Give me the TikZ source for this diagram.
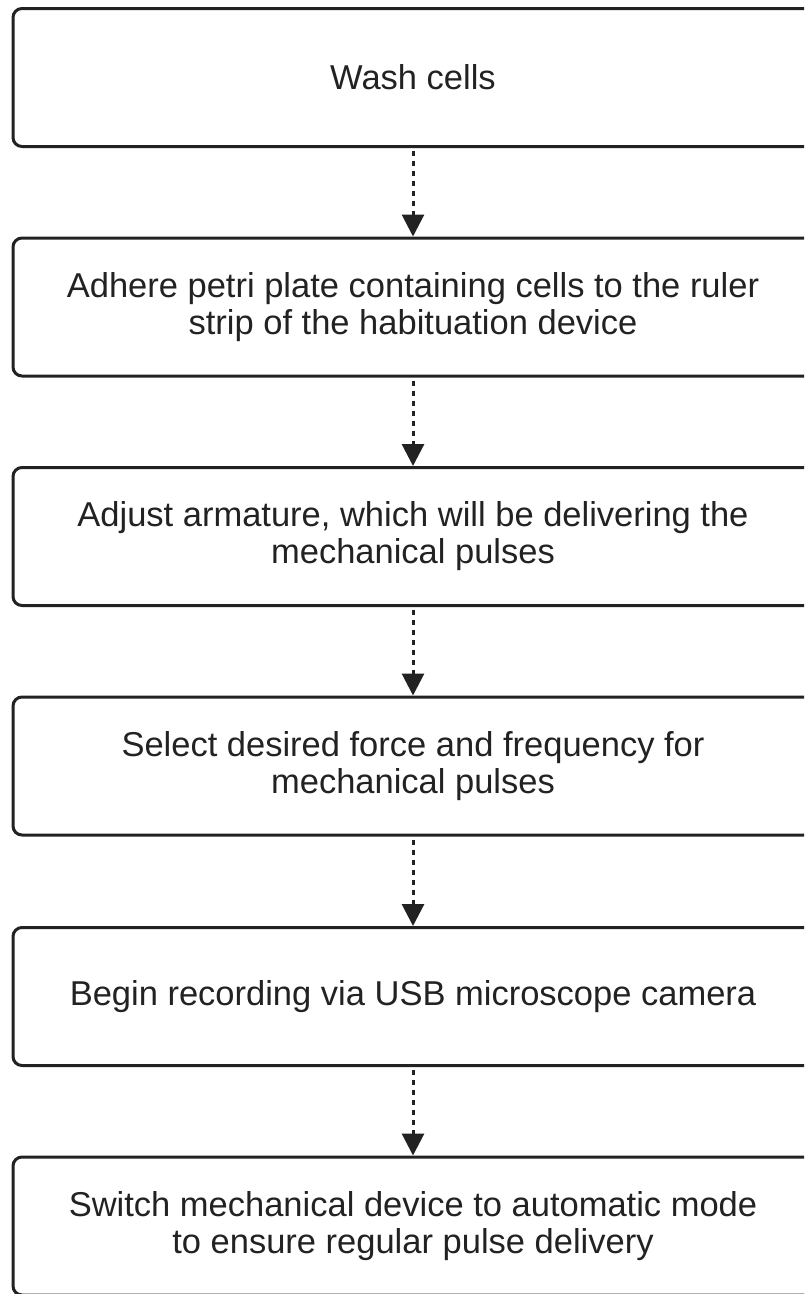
\documentclass[tikz,border=0pt]{standalone}
\usepackage{fontspec}
\setmainfont{Liberation Sans}
\usetikzlibrary{arrows.meta}
\definecolor{ink}{HTML}{222222}
\tikzset{
  stepbox/.style={draw=ink, line width=3pt, rounded corners=9pt, minimum width=800pt, minimum height=138pt, inner sep=0pt, align=center, text=ink, font=\fontsize{34.5}{37}\selectfont},
  flowarrow/.style={draw=ink, line width=3pt, dash pattern=on 5pt off 5pt, shorten <=3pt, -{Triangle[width=22pt,length=22pt]}}
}
\begin{document}
\begin{tikzpicture}[x=1pt,y=-1pt]
\useasboundingbox (0,0) rectangle (804,1294);
\clip (0,0) rectangle (804,1294);
\node[stepbox] (s1) at (413,77.5) {Wash cells};
\node[stepbox] (s2) at (413,307) {Adhere petri plate containing cells to the ruler\\strip of the habituation device};
\node[stepbox] (s3) at (413,536.5) {Adjust armature, which will be delivering the\\mechanical pulses};
\node[stepbox] (s4) at (413,766) {Select desired force and frequency for\\mechanical pulses};
\node[stepbox] (s5) at (413,996.5) {Begin recording via USB microscope camera};
\node[stepbox] (s6) at (413,1226) {Switch mechanical device to automatic mode\\to ensure regular pulse delivery};
\draw[flowarrow] (s1.south) -- (s2.north);
\draw[flowarrow] (s2.south) -- (s3.north);
\draw[flowarrow] (s3.south) -- (s4.north);
\draw[flowarrow] (s4.south) -- (s5.north);
\draw[flowarrow] (s5.south) -- (s6.north);
\end{tikzpicture}
\end{document}
